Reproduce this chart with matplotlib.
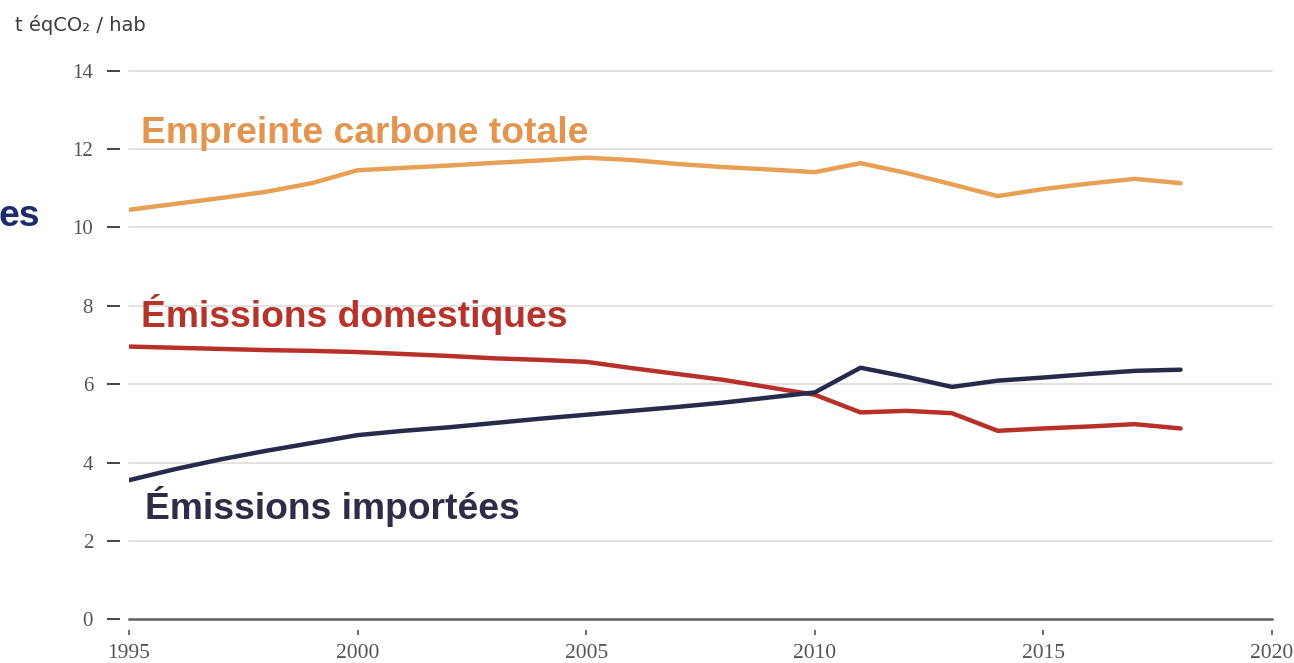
import matplotlib
matplotlib.use("Agg")
import matplotlib.pyplot as plt

years = list(range(1995, 2019))
empreinte = [10.45, 10.60, 10.75, 10.91, 11.13, 11.46, 11.52, 11.58, 11.65, 11.71, 11.78,
             11.72, 11.62, 11.54, 11.48, 11.41, 11.64, 11.39, 11.10, 10.80, 10.98, 11.12,
             11.24, 11.13]
domestiques = [6.96, 6.93, 6.90, 6.87, 6.85, 6.82, 6.77, 6.72, 6.66, 6.62, 6.57,
               6.41, 6.26, 6.11, 5.92, 5.73, 5.28, 5.32, 5.26, 4.81, 4.87, 4.92,
               4.98, 4.87]
importees = [3.55, 3.83, 4.08, 4.30, 4.50, 4.70, 4.81, 4.90, 5.01, 5.12, 5.22,
             5.32, 5.42, 5.53, 5.66, 5.79, 6.42, 6.19, 5.93, 6.09, 6.17, 6.26,
             6.34, 6.37]
yticks = [0, 2, 4, 6, 8, 10, 12, 14]
xticks = [1995, 2000, 2005, 2010, 2015, 2020]

W, H = 1294, 663
fig = plt.figure(figsize=(W / 100, H / 100), dpi=100)
ax = fig.add_axes([129 / W, (H - 619.3) / H, (1272 - 129) / W, (619.3 - 70.7) / H])

c_orange = "#E3954F"
c_red = "#B5332B"
c_navy = "#262A4B"

for v in yticks[1:]:
    ax.axhline(v, color="#dadada", lw=1.1, zorder=1, clip_on=False)
ax.axhline(0, color="#606060", lw=1.8, zorder=2, clip_on=False)

ax.plot(years, empreinte, color="#E8A055", lw=3.2, solid_capstyle="round", zorder=3)
ax.plot(years, domestiques, color="#B8302A", lw=3.2, solid_capstyle="round", zorder=3)
ax.plot(years, importees, color=c_navy, lw=3.2, solid_capstyle="round", zorder=4)

ax.set_xlim(1995, 2020)
ax.set_ylim(0, 14)
for s in ["top", "right"]:
    ax.spines[s].set_visible(False)
ax.spines["left"].set_position(("outward", 6.5))
ax.spines["left"].set_visible(False)
ax.spines["bottom"].set_position(("outward", 7.5))
ax.spines["bottom"].set_visible(False)

ax.set_yticks(yticks)
ax.set_xticks(xticks)
ax.tick_params(axis="y", direction="out", length=9.4, width=1.4, color="#444444",
               pad=10, labelsize=15, labelcolor="#555555")
ax.tick_params(axis="x", direction="out", length=3.6, width=1.2, color="#555555",
               pad=6.5, labelsize=15.5, labelcolor="#555555")
for lab in ax.get_xticklabels() + ax.get_yticklabels():
    lab.set_family("Liberation Serif")

fig.text(15 / W, 1 - 25 / H, "t éqCO₂ / hab", ha="left", va="center",
         fontsize=14, color="#3d3d3d", family=["DejaVu Sans"])

lab_font = dict(fontsize=26.8, fontweight="bold", family="Liberation Sans")
fig.text(141 / W, 1 - 143 / H, "Empreinte carbone totale", ha="left", va="baseline",
         color=c_orange, **lab_font)
fig.text(141 / W, 1 - 327 / H, "Émissions domestiques", ha="left", va="baseline",
         color=c_red, **lab_font)
fig.text(145 / W, 1 - 519 / H, "Émissions importées", ha="left", va="baseline",
         color="#2E2C47", **lab_font)
fig.text(-2 / W, 1 - 226 / H, "es", ha="left", va="baseline",
         color="#1B2C6A", **lab_font)

fig.savefig("out.png", dpi=100)
